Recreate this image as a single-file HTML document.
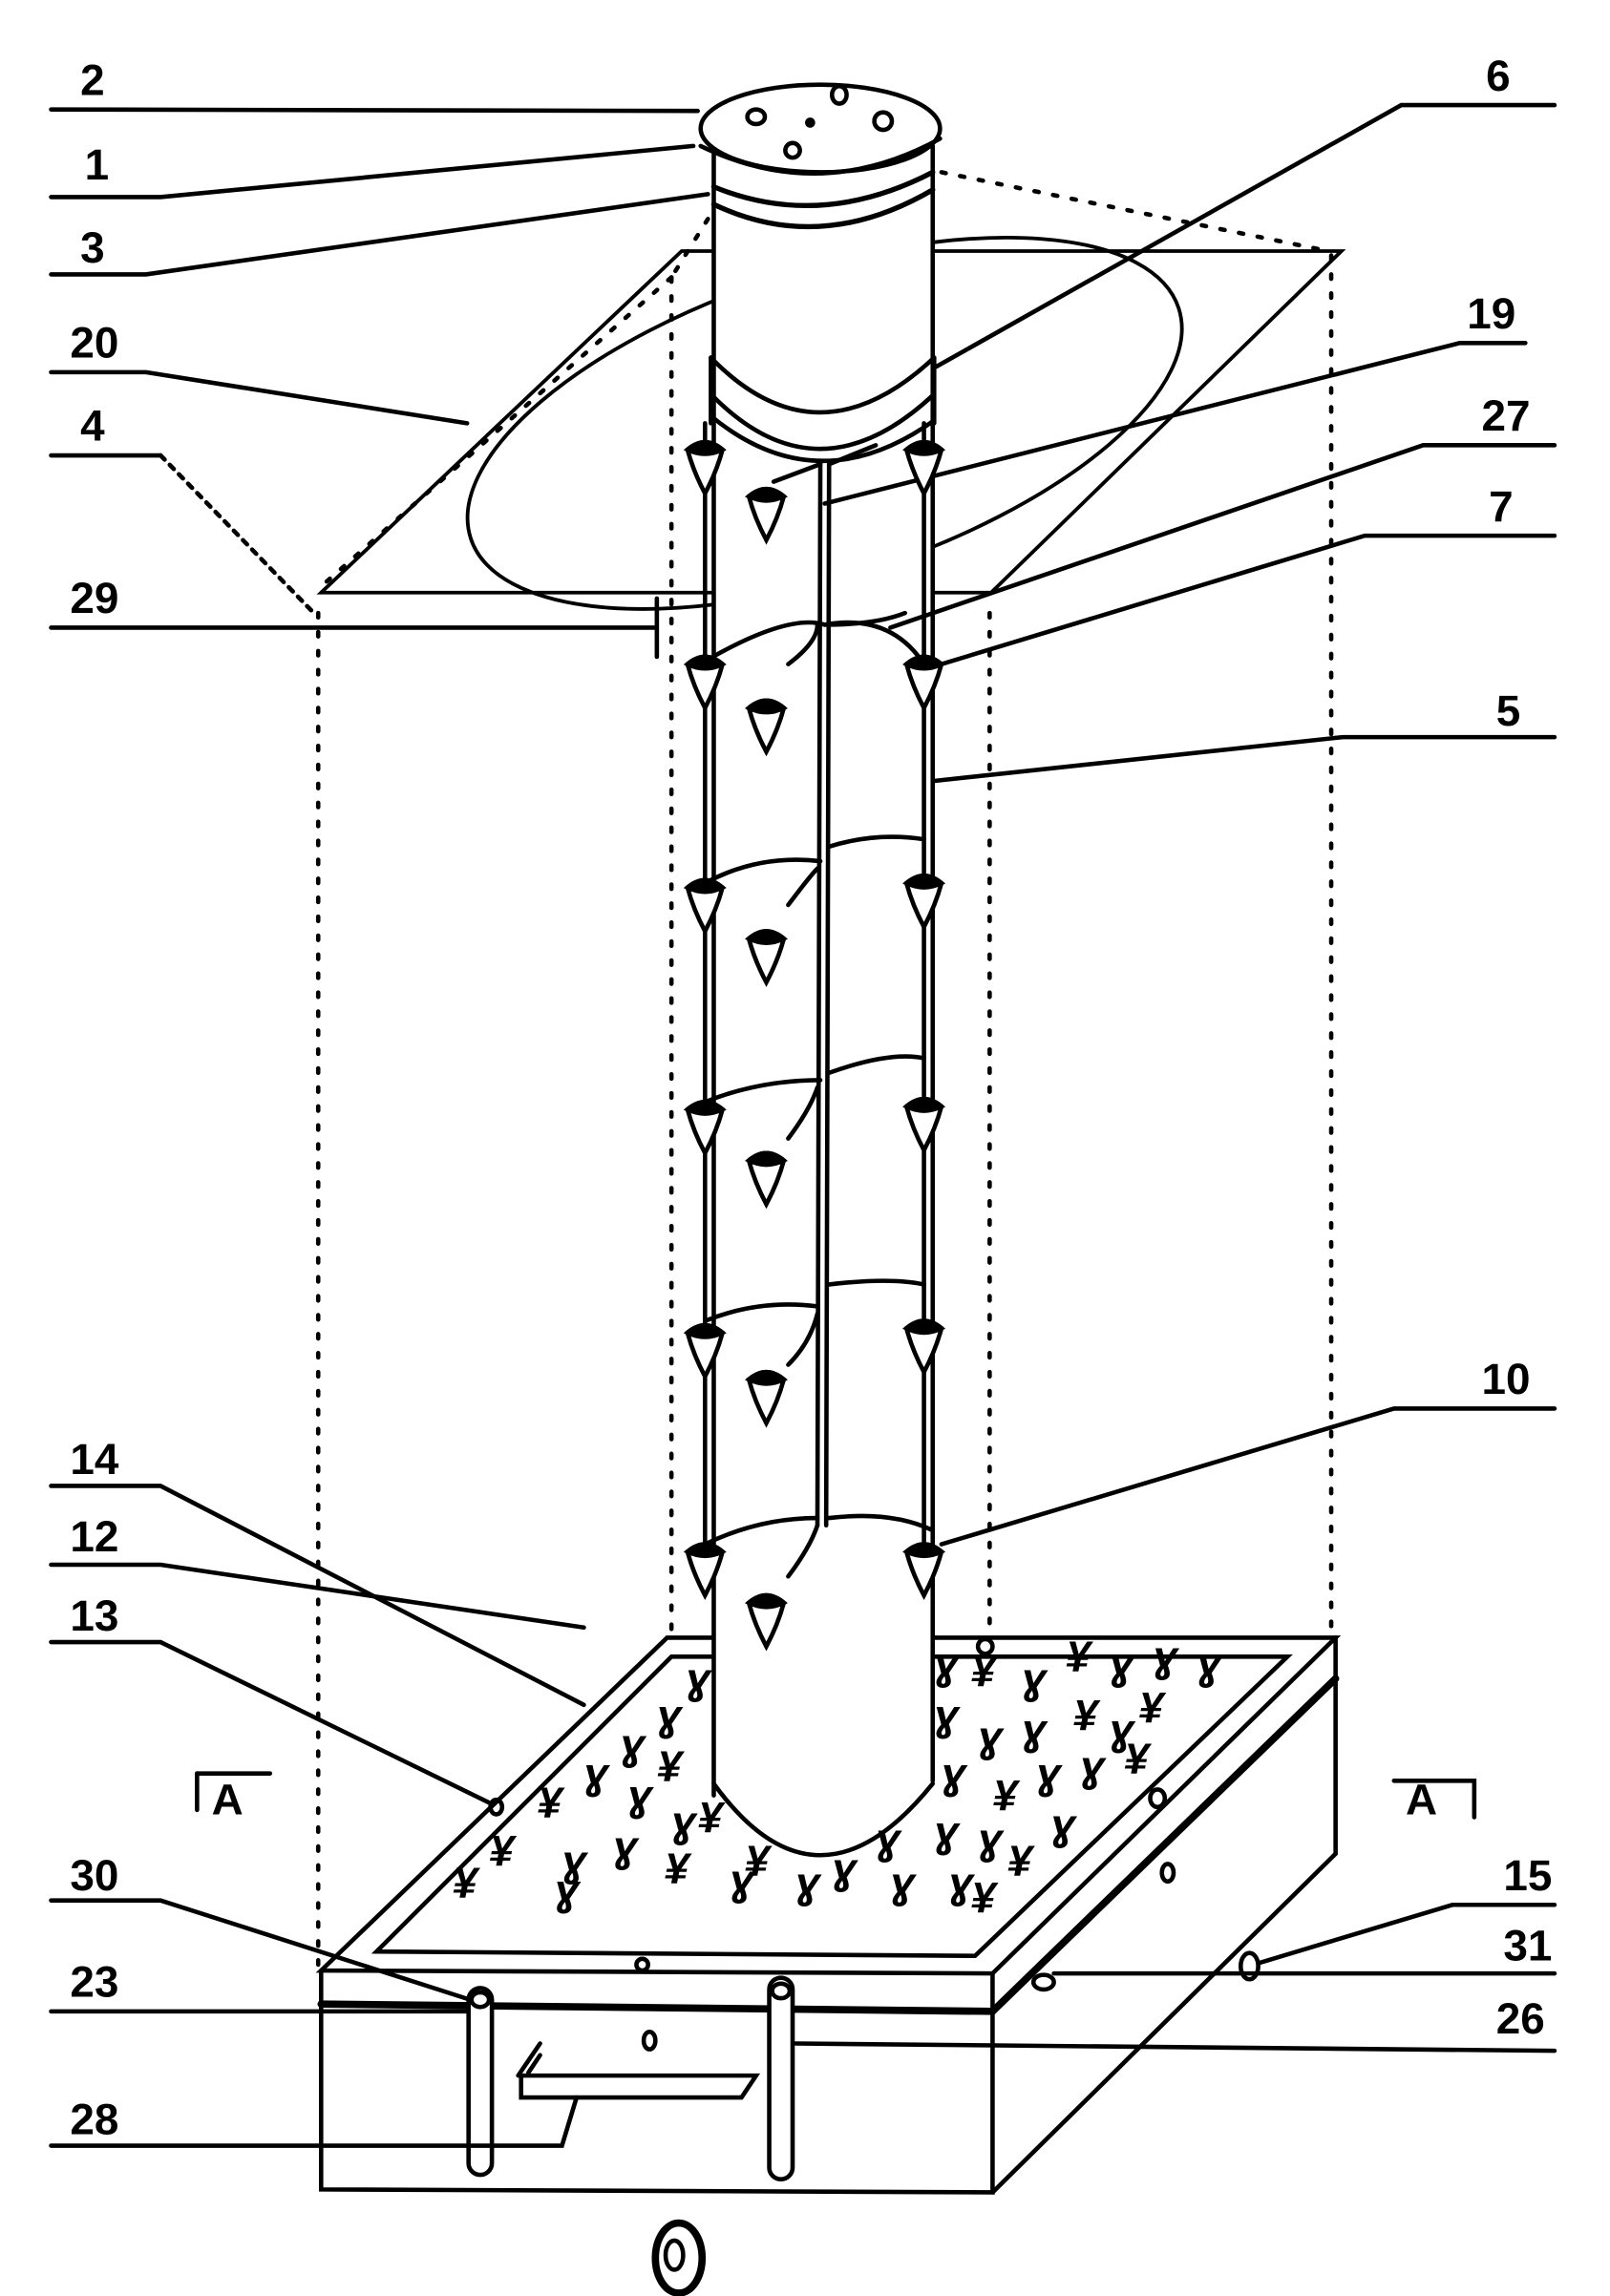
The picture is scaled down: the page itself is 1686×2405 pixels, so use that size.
<!DOCTYPE html>
<html><head><meta charset="utf-8"><style>
html,body{margin:0;padding:0;background:#fff}
svg{display:block}
text{font-family:"Liberation Sans",sans-serif;font-size:30px;fill:#000}
</style></head><body>
<svg width="1686" height="2405" viewBox="0 0 1103 1573" preserveAspectRatio="none" xmlns="http://www.w3.org/2000/svg">
<defs>
<g id="d" fill="#fff" stroke="#000" stroke-width="3"><path d="M-12 0 Q0 -10 12 0 Q8 15 0 30 Q-8 15 -12 0Z"/><path d="M-12 0 Q0 -10 12 0 Q0 6 -12 0Z" fill="#000"/></g>
</defs>
<g fill="none" stroke="#000" stroke-width="3" stroke-linecap="round">
<g stroke-dasharray="3 10" stroke-width="3">
<line x1="218" y1="420" x2="218" y2="1348"/>
<line x1="460" y1="190" x2="460" y2="1120"/>
<line x1="678" y1="420" x2="678" y2="1120"/>
<line x1="912" y1="175" x2="912" y2="1122"/>
<line x1="645" y1="118" x2="910" y2="172"/>
<line x1="485" y1="150" x2="460" y2="190"/>
<line x1="460" y1="190" x2="222" y2="400"/>
<line x1="590" y1="170" x2="612" y2="250"/>
</g>
<polygon points="220,406 679,406 919,172 467,172" stroke-width="2.5"/>
<ellipse cx="565" cy="290" rx="255" ry="105" transform="rotate(-18 565 290)" stroke-width="2.5"/>
<rect x="489" y="105" width="150" height="1170" fill="#fff" stroke="none"/>
<line x1="489" y1="105" x2="489" y2="1240"/>
<line x1="639" y1="100" x2="639" y2="1225"/>
<path d="M489 1225 Q560 1320 639 1225"/>
<ellipse cx="562" cy="88" rx="82" ry="30" fill="#fff"/>
<path d="M480 100 Q562 140 644 95"/>
<path d="M489 128 Q562 158 639 118" stroke-width="3.5"/>
<path d="M489 140 Q562 175 639 130" stroke-width="3.5"/>
<ellipse cx="518" cy="80" rx="6" ry="5"/><ellipse cx="575" cy="65" rx="5" ry="6"/><ellipse cx="605" cy="83" rx="6" ry="6"/><ellipse cx="543" cy="103" rx="5" ry="5"/>
<circle cx="555" cy="84" r="2" fill="#000"/>
<path d="M487 245 Q560 320 640 245"/><path d="M487 270 Q560 345 640 270"/><path d="M487 285 Q560 345 640 288"/>
<line x1="487" y1="245" x2="487" y2="290"/><line x1="640" y1="245" x2="640" y2="290"/>
<line x1="483" y1="290" x2="483" y2="1080"/>
<line x1="633" y1="290" x2="633" y2="1070"/>
<line x1="562" y1="318" x2="560" y2="1045"/>
<line x1="568" y1="318" x2="566" y2="1045"/>
<path d="M562 318 L530 330 M568 318 L600 305"/>
<path d="M483 453 Q540 420 565 428 Q610 420 633 455"/>
<path d="M565 428 Q600 428 620 420"/>
<path d="M483 605 Q520 585 562 590 M568 580 Q600 570 633 575"/>
<path d="M483 755 Q520 740 562 740 M568 735 Q610 720 633 725"/>
<path d="M483 905 Q520 890 560 895 M568 880 Q610 875 633 880"/>
<path d="M483 1058 Q520 1040 560 1040 M568 1040 Q610 1035 638 1048"/>
<path d="M540 455 Q560 440 560 428 M540 620 Q555 600 560 595 M540 780 Q555 760 560 745 M540 935 Q555 920 560 900 M540 1080 Q555 1060 560 1045"/>
<polygon points="220,1350 680,1352 915,1122 457,1122" fill="#fff"/>
<polygon points="258,1337 668,1340 882,1135 460,1135"/>
<rect x="489" y="1120" width="150" height="100" fill="#fff" stroke="none"/>
<line x1="489" y1="1120" x2="489" y2="1230"/><line x1="639" y1="1120" x2="639" y2="1220"/>
<path d="M489 1222 Q560 1320 639 1222"/>
<polyline points="220,1350 220,1500 680,1502 680,1352"/>
<polyline points="680,1502 915,1270 915,1122"/>
<line x1="220" y1="1373" x2="680" y2="1378" stroke-width="5"/>
<line x1="680" y1="1378" x2="915" y2="1150" stroke-width="5"/>
<rect x="321" y="1362" width="16" height="128" rx="8" fill="#fff"/>
<rect x="527" y="1355" width="16" height="138" rx="8" fill="#fff"/>
<ellipse cx="329" cy="1370" rx="6" ry="5"/><ellipse cx="535" cy="1364" rx="6" ry="5"/>
<polygon points="357,1422 518,1422 508,1437 357,1437"/>
<path d="M370 1400 L355 1422 M370 1408 L362 1420"/>
<ellipse cx="445" cy="1398" rx="4" ry="6"/>
<ellipse cx="800" cy="1283" rx="4" ry="6"/><ellipse cx="793" cy="1232" rx="5" ry="6"/>
<ellipse cx="675" cy="1128" rx="5" ry="5"/><ellipse cx="440" cy="1346" rx="4" ry="4"/>
<ellipse cx="715" cy="1358" rx="7" ry="5"/><ellipse cx="856" cy="1347" rx="6" ry="9"/>
<ellipse cx="340" cy="1238" rx="4" ry="5"/>
<ellipse cx="465" cy="1547" rx="16" ry="24" stroke-width="5"/><ellipse cx="462" cy="1545" rx="6" ry="10"/>
<line x1="35" y1="75" x2="478" y2="76"/>
<polyline points="35,135 110,135 475,100"/>
<polyline points="35,188 100,188 485,133"/>
<polyline points="35,255 100,255 320,290"/>
<polyline points="35,312 110,312"/>
<line x1="110" y1="312" x2="215" y2="420" stroke-dasharray="4 5"/>
<line x1="35" y1="430" x2="450" y2="430"/><line x1="450" y1="410" x2="450" y2="450"/>
<polyline points="35,1018 110,1018 400,1168"/>
<polyline points="35,1072 110,1072 400,1115"/>
<polyline points="35,1125 110,1125 335,1235"/>
<polyline points="35,1302 110,1302 322,1370"/>
<line x1="35" y1="1378" x2="320" y2="1378"/>
<polyline points="35,1470 385,1470 395,1437"/>
<polyline points="1065,72 960,72 640,252"/>
<polyline points="1045,235 1000,235 565,345"/>
<polyline points="1065,305 975,305 610,430"/>
<polyline points="1065,367 935,367 645,455"/>
<polyline points="1065,505 920,505 640,535"/>
<polyline points="1065,965 955,965 645,1058"/>
<polyline points="1065,1305 995,1305 862,1345"/>
<line x1="722" y1="1352" x2="1065" y2="1352"/>
<line x1="545" y1="1400" x2="1065" y2="1405"/>
<polyline points="135,1215 135,1240"/><line x1="135" y1="1215" x2="185" y2="1215"/>
<polyline points="1010,1245 1010,1220 955,1220"/>
</g>
<g>
<use href="#d" x="483" y="308"/><use href="#d" x="633" y="308"/><use href="#d" x="483" y="455"/><use href="#d" x="633" y="455"/>
<use href="#d" x="483" y="608"/><use href="#d" x="633" y="605"/><use href="#d" x="483" y="760"/><use href="#d" x="633" y="758"/>
<use href="#d" x="483" y="913"/><use href="#d" x="633" y="910"/><use href="#d" x="483" y="1063"/><use href="#d" x="633" y="1063"/>
<use href="#d" x="525" y="340"/><use href="#d" x="525" y="485"/><use href="#d" x="525" y="643"/><use href="#d" x="525" y="795"/><use href="#d" x="525" y="945"/><use href="#d" x="525" y="1098"/>
</g>
<g font-size="18" font-family="Liberation Serif, serif" font-style="italic" font-weight="bold">
<text x="470" y="1160">ɣ</text><text x="450" y="1185">ɣ</text><text x="425" y="1205">ɣ</text><text x="450" y="1220">¥</text><text x="400" y="1225">ɣ</text><text x="368" y="1245">¥</text><text x="430" y="1240">ɣ</text><text x="460" y="1258">ɣ</text>
<text x="335" y="1278">¥</text><text x="385" y="1285">ɣ</text><text x="420" y="1275">ɣ</text><text x="455" y="1290">¥</text><text x="310" y="1300">¥</text><text x="380" y="1305">ɣ</text><text x="500" y="1298">ɣ</text><text x="545" y="1300">ɣ</text><text x="570" y="1290">ɣ</text><text x="610" y="1300">ɣ</text>
<text x="478" y="1255">¥</text><text x="510" y="1285">¥</text><text x="600" y="1270">ɣ</text><text x="640" y="1150">ɣ</text><text x="665" y="1155">¥</text><text x="700" y="1160">ɣ</text><text x="730" y="1145">¥</text><text x="760" y="1150">ɣ</text><text x="790" y="1145">ɣ</text><text x="820" y="1150">ɣ</text>
<text x="640" y="1185">ɣ</text><text x="670" y="1200">ɣ</text><text x="700" y="1195">ɣ</text><text x="735" y="1185">¥</text><text x="760" y="1195">ɣ</text><text x="780" y="1180">¥</text>
<text x="645" y="1225">ɣ</text><text x="680" y="1240">¥</text><text x="710" y="1225">ɣ</text><text x="740" y="1220">ɣ</text><text x="770" y="1215">¥</text>
<text x="640" y="1265">ɣ</text><text x="670" y="1270">ɣ</text><text x="690" y="1285">¥</text><text x="720" y="1260">ɣ</text><text x="650" y="1300">ɣ</text><text x="665" y="1310">¥</text>
</g>
<g font-weight="bold">
<text x="55" y="65">2</text><text x="58" y="123">1</text><text x="55" y="180">3</text><text x="48" y="245">20</text><text x="55" y="302">4</text><text x="48" y="420">29</text>
<text x="48" y="1010">14</text><text x="48" y="1063">12</text><text x="48" y="1117">13</text><text x="48" y="1295">30</text><text x="48" y="1368">23</text><text x="48" y="1462">28</text>
<text x="1018" y="62">6</text><text x="1005" y="225">19</text><text x="1015" y="295">27</text><text x="1020" y="357">7</text><text x="1025" y="497">5</text><text x="1015" y="955">10</text>
<text x="1030" y="1295">15</text><text x="1030" y="1343">31</text><text x="1025" y="1393">26</text>
<text x="145" y="1243">A</text><text x="963" y="1243">A</text>
</g>
</svg>
</body></html>
